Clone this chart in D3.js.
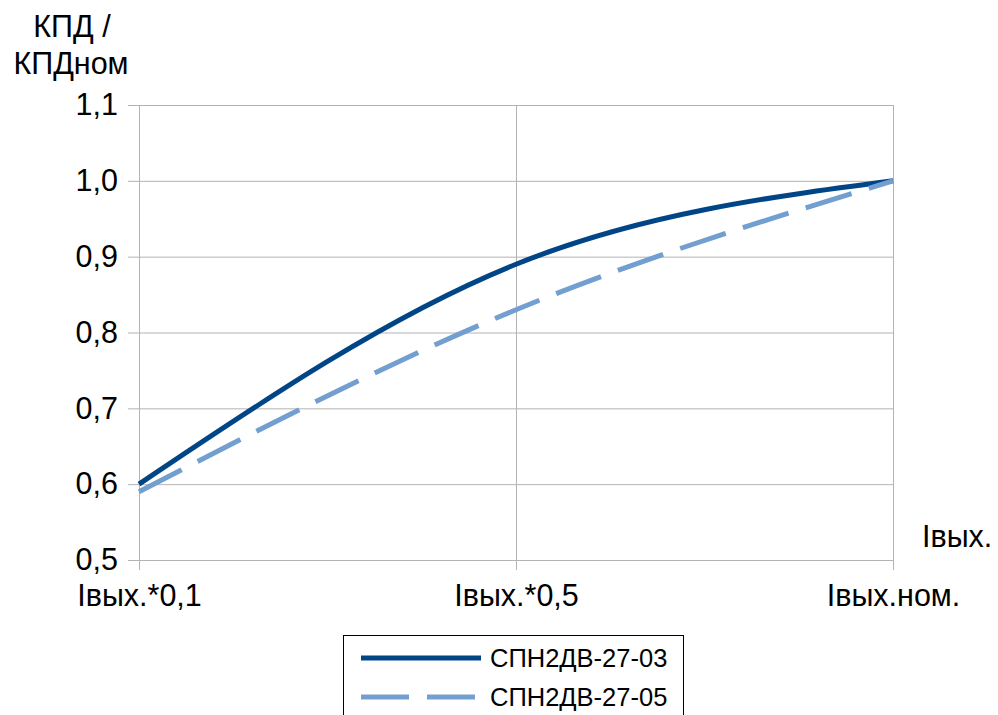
<!DOCTYPE html>
<html>
<head>
<meta charset="utf-8">
<script src="https://cdn.jsdelivr.net/npm/d3@7"></script>
<style>
  body { margin: 0; background: #fff; }
  svg { display: block; font-family: "Liberation Sans", Arial, sans-serif; }
</style>
</head>
<body>
<svg id="chart" width="998" height="715"></svg>
<script>
// data
const categories = ["Iвых.*0,1", "Iвых.*0,5", "Iвых.ном."];
const seriesNames = ["СПН2ДВ-27-03", "СПН2ДВ-27-05"];
const spn03 = [0.60, 0.89, 1.00];
const spn05 = [0.59, 0.83, 1.00];
const yTicks = [0.5, 0.6, 0.7, 0.8, 0.9, 1.0, 1.1];

const series = [
    { name: seriesNames[0], values: spn03, color: "#004586", dash: null },
    { name: seriesNames[1], values: spn05, color: "#729fcf", dash: "48,18" }
];

const svg = d3.select("#chart");
const plot = { left: 139, right: 893, top: 105, bottom: 560 };

const x = d3.scalePoint().domain(categories).range([plot.left, plot.right]).padding(0);
const y = d3.scaleLinear().domain([0.5, 1.1]).range([plot.bottom, plot.top]);

const fmt = (d) => d3.format(".1f")(d).replace(".", ",");

// horizontal grid + y labels
const yAxis = (g) => {
    g.attr("transform", `translate(128,0)`)
        .call(d3.axisLeft(y).tickValues(yTicks).tickSize(-(plot.right - 128)).tickPadding(10).tickFormat(fmt));
    g.select(".domain").remove();
    g.selectAll("line").attr("stroke", "#b3b3b3");
    g.selectAll("text").attr("fill", "#000").style("font-size", "30.5px");
};

// vertical grid + category labels
const xAxis = (g) => {
    g.attr("transform", `translate(0,${plot.top})`)
        .call(d3.axisBottom(x).tickSize(plot.bottom - plot.top + 10).tickPadding(14));
    g.select(".domain").remove();
    g.selectAll("line").attr("stroke", "#b3b3b3");
    g.selectAll("text").attr("fill", "#000").style("font-size", "30.5px");
};

svg.append("g").attr("class", "y-axis").call(yAxis);
svg.append("g").attr("class", "x-axis").call(xAxis);

const line = d3.line()
    .x((d, i) => x(categories[i]))
    .y((d) => y(d))
    .curve(d3.curveNatural);

svg.append("g").attr("class", "plot-area")
    .selectAll("path")
    .data(series)
    .join("path")
    .attr("d", (d) => line(d.values))
    .attr("fill", "none")
    .attr("stroke", (d) => d.color)
    .attr("stroke-width", 5)
    .attr("stroke-dasharray", (d) => d.dash);

// axis titles
const yTitle = svg.append("text")
    .attr("text-anchor", "middle")
    .style("font-size", "30.5px");
yTitle.append("tspan").attr("x", 72).attr("y", 37).text("КПД /");
yTitle.append("tspan").attr("x", 71).attr("y", 74).text("КПДном");

svg.append("text")
    .attr("x", 922)
    .attr("y", 547)
    .style("font-size", "30.5px")
    .text("Iвых.");

// legend
const legend = svg.append("g").attr("class", "legend");
legend.append("rect")
    .attr("x", 343.5).attr("y", 635.5)
    .attr("width", 340).attr("height", 100)
    .attr("fill", "#fff")
    .attr("stroke", "#000");

const item = legend.selectAll(".item")
    .data(series)
    .join("g")
    .attr("class", "item")
    .attr("transform", (d, i) => `translate(0,${658 + i * 39})`);

item.append("line")
    .attr("x1", 361).attr("x2", 481)
    .attr("stroke", (d) => d.color)
    .attr("stroke-width", 5)
    .attr("stroke-dasharray", (d) => d.dash);

item.append("text")
    .attr("x", 490)
    .attr("y", 9)
    .style("font-size", "25.5px")
    .text((d) => d.name);
</script>
</body>
</html>
